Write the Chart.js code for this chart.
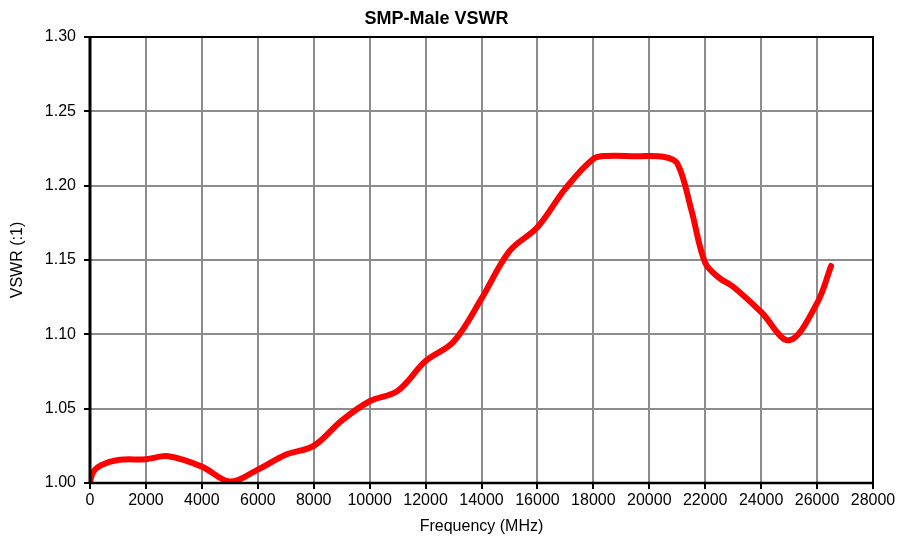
<!DOCTYPE html>
<html>
<head>
<meta charset="utf-8">
<script src="https://cdn.jsdelivr.net/npm/chart.js@4"></script>
<style>
  html, body { margin: 0; padding: 0; background: #fff; }
  #wrap { width: 899px; height: 542px; }
</style>
</head>
<body>
<div id="wrap"><canvas id="c" width="899" height="542"></canvas></div>
<script>
const freqMHz = [0, 100, 400, 1000, 2000, 2800, 4000, 5000, 6000, 7000, 8000, 9000, 10000, 11000, 12000, 13000, 14000, 15000, 16000, 17000, 18000, 18500, 19500, 20500, 21000, 21500, 22000, 22500, 23000, 24000, 25000, 26000, 26500];
const vswr = [1.000, 1.007, 1.012, 1.0155, 1.016, 1.018, 1.011, 1.001, 1.009, 1.019, 1.025, 1.042, 1.055, 1.062, 1.082, 1.095, 1.124, 1.156, 1.172, 1.198, 1.218, 1.220, 1.2198, 1.2195, 1.215, 1.184, 1.148, 1.138, 1.132, 1.115, 1.096, 1.121, 1.146];
const yTicks = [1.00, 1.05, 1.10, 1.15, 1.20, 1.25, 1.30];
const xTicks = [0, 2000, 4000, 6000, 8000, 10000, 12000, 14000, 16000, 18000, 20000, 22000, 24000, 26000, 28000];

const FONT = '"Liberation Sans", Arial, sans-serif';

const frame = {
  id: 'frame',
  afterDatasetsDraw(chart) {
    const { ctx, chartArea: a } = chart;
    ctx.save();
    ctx.strokeStyle = '#000';
    ctx.lineWidth = 2;
    ctx.beginPath();
    ctx.moveTo(a.left, a.top); ctx.lineTo(a.right, a.top); ctx.lineTo(a.right, a.bottom);
    ctx.stroke();
    ctx.lineWidth = 3;
    ctx.beginPath();
    ctx.moveTo(a.left, a.top - 1); ctx.lineTo(a.left, a.bottom);
    ctx.stroke();
    ctx.lineWidth = 2.5;
    ctx.beginPath();
    ctx.moveTo(a.left - 1.5, a.bottom); ctx.lineTo(a.right + 1, a.bottom);
    ctx.stroke();
    ctx.restore();
  }
};

new Chart(document.getElementById('c'), {
  type: 'line',
  data: {
    datasets: [{
      data: freqMHz.map((f, i) => ({ x: f, y: vswr[i] })),
      borderColor: '#ff0000',
      borderWidth: 6,
      borderCapStyle: 'round',
      borderJoinStyle: 'round',
      pointRadius: 0,
      tension: 0.35,
      fill: false
    }]
  },
  options: {
    responsive: false,
    animation: false,
    devicePixelRatio: 1,
    layout: { padding: { left: 0, right: 26, top: 0, bottom: 0 } },
    plugins: {
      legend: { display: false },
      tooltip: { enabled: false },
      title: {
        display: true,
        text: 'SMP-Male VSWR',
        color: '#000',
        font: { family: FONT, size: 18, weight: 'bold', lineHeight: 1.2 },
        padding: { top: 8, bottom: 7.4 }
      }
    },
    scales: {
      x: {
        type: 'linear',
        min: 0, max: 28000,
        afterBuildTicks(scale) { scale.ticks = xTicks.map(v => ({ value: v })); },
        afterFit(scale) { scale.height = 59; },
        ticks: {
          color: '#000',
          font: { family: FONT, size: 16 },
          padding: 2,
          maxRotation: 0,
          autoSkip: false,
          callback: v => String(v)
        },
        grid: { color: '#8c8c8c', lineWidth: 2, tickColor: '#000', tickLength: 6, drawOnChartArea: true },
        border: { display: false },
        title: {
          display: true,
          text: 'Frequency (MHz)',
          color: '#000',
          font: { family: FONT, size: 16 },
          padding: { top: 2, bottom: 6 }
        }
      },
      y: {
        type: 'linear',
        min: 1.0, max: 1.3,
        afterBuildTicks(scale) { scale.ticks = yTicks.map(v => ({ value: v })); },
        afterFit(scale) { scale.width = 90; },
        ticks: {
          color: '#000',
          font: { family: FONT, size: 16 },
          padding: 8,
          autoSkip: false,
          callback: v => Number(v).toFixed(2)
        },
        grid: { color: '#8c8c8c', lineWidth: 2, tickColor: '#000', tickLength: 6 },
        border: { display: false },
        title: {
          display: true,
          text: 'VSWR (:1)',
          color: '#000',
          font: { family: FONT, size: 16 },
          padding: { top: 8, bottom: 0 }
        }
      }
    }
  },
  plugins: [frame]
});
</script>
</body>
</html>
